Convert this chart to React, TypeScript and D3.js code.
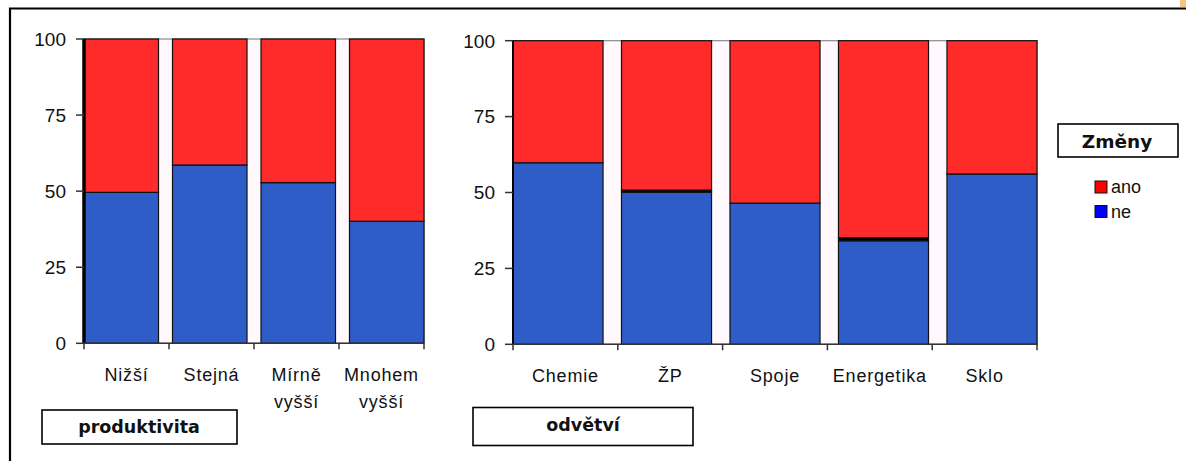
import React from "react";
import * as d3 from "d3";

// ---- data ----
const prodCategories = ["Nižší", "Stejná", "Mírně\nvyšší", "Mnohem\nvyšší"];
const prodNe = [49.6, 58.6, 52.8, 40.1];
const prodOther = [0, 0, 0, 0];
const prodAno = [50.4, 41.4, 47.2, 59.9];

const sectorCategories = ["Chemie", "ŽP", "Spoje", "Energetika", "Sklo"];
const sectorNe = [59.8, 50.1, 46.5, 34.1, 56.1];
const sectorOther = [0, 0.7, 0, 1.0, 0];
const sectorAno = [40.2, 49.2, 53.5, 64.9, 43.9];

const yTicks = [0, 25, 50, 75, 100];
const legendTitle = "Změny";
const legendItems = ["ano", "ne"];
const prodTitle = "produktivita";
const sectorTitle = "odvětví";

const RED = "#ff2a2a";
const BLUE = "#2e5dc8";
const FONT = "'Liberation Sans', Arial, sans-serif";
const BOLD = "'DejaVu Sans', Verdana, sans-serif";

type Row = { cat: string; ne: number; other: number; ano: number };

function Panel({
  cats, ne, other, ano, x0, x1, y0, y1, axisW, pad,
}: {
  cats: string[]; ne: number[]; other: number[]; ano: number[];
  x0: number; x1: number; y0: number; y1: number; axisW: number; pad: number;
}) {
  const rows: Row[] = cats.map((c, i) => ({ cat: c, ne: ne[i], other: other[i], ano: ano[i] }));
  const stack = d3.stack<Row>().keys(["ne", "other", "ano"]);
  const series = stack(rows);
  const y = d3.scaleLinear().domain([0, 100]).range([y1, y0]);
  const band = d3.scaleBand<string>().domain(cats).range([x0, x1]);
  const bars = d3.scaleBand<string>().domain(cats).range([x0, x1]).paddingInner(pad).paddingOuter(0);
  const colors: Record<string, string> = { ne: BLUE, other: "#000", ano: RED };
  const edges = [x0, ...cats.map((c) => (band(c) as number) + band.bandwidth())];
  return (
    <g>
      <rect x={x0} y={y0} width={x1 - x0} height={y1 - y0} fill="#fff9fd" stroke="#8a8a8a" strokeWidth={1.2} />
      {series.map((s) =>
        s.map((d, i) => {
          const h = y(d[0]) - y(d[1]);
          if (h <= 0) return null;
          return (
            <rect
              key={s.key + i}
              x={bars(rows[i].cat)}
              y={y(d[1])}
              width={bars.bandwidth()}
              height={h}
              fill={colors[s.key]}
              stroke="#111"
              strokeWidth={1.2}
            />
          );
        })
      )}
      {/* y axis */}
      <line x1={x0} x2={x0} y1={y0} y2={y1} stroke="#000" strokeWidth={axisW} />
      {yTicks.map((t) => (
        <g key={t}>
          <line x1={x0 - 8} x2={x0} y1={y(t)} y2={y(t)} stroke="#333" strokeWidth={1.5} />
          <text x={x0 - 18} y={y(t)} dy="0.36em" textAnchor="end" fontFamily={FONT} fontSize={19} fill="#111">
            {t}
          </text>
        </g>
      ))}
      {/* x axis */}
      <line x1={x0} x2={x1} y1={y1} y2={y1} stroke="#333" strokeWidth={1.5} />
      {edges.map((e, i) => (
        <line key={i} x1={e} x2={e} y1={y1} y2={y1 + 6} stroke="#333" strokeWidth={1.5} />
      ))}
      {cats.map((c) => {
        const cx = (band(c) as number) + band.bandwidth() / 2;
        const lines = c.split("\n");
        return (
          <text key={c} x={cx} y={y1 + 38} textAnchor="middle" fontFamily={FONT} fontSize={18} letterSpacing={0.8} fill="#111">
            {lines.map((l, i) => (
              <tspan key={i} x={cx} dy={i === 0 ? 0 : 27}>{l}</tspan>
            ))}
          </text>
        );
      })}
    </g>
  );
}

export default function App() {
  return (
    <div style={{ position: "absolute", left: 0, top: 0 }}>
      <svg width={1186} height={461} style={{ display: "block" }}>
        <rect x={0} y={0} width={1186} height={461} fill="#fff" />
        {/* outer frame */}
        <path d="M10,470 V8.5 H1195" fill="none" stroke="#000" strokeWidth={2.2} />
        <rect x={1180} y={0} width={6} height={7} fill="#f8c580" />

        <Panel cats={prodCategories} ne={prodNe} other={prodOther} ano={prodAno}
          x0={84} x1={424} y0={39} y1={343.3} axisW={3.5} pad={0.158} />
        <Panel cats={sectorCategories} ne={sectorNe} other={sectorOther} ano={sectorAno}
          x0={513} x1={1037} y0={40.7} y1={344.3} axisW={2} pad={0.17} />

        {/* axis title boxes */}
        <rect x={42} y={410} width={195} height={34} fill="#fff" stroke="#000" strokeWidth={1.6} />
        <text x={139} y={433} textAnchor="middle" fontFamily={BOLD} fontWeight="bold" fontSize={17.5} fill="#111">{prodTitle}</text>
        <rect x={473} y={407.5} width={220} height={38} fill="#fff" stroke="#000" strokeWidth={1.6} />
        <text x={583} y={431} textAnchor="middle" fontFamily={BOLD} fontWeight="bold" fontSize={17.5} fill="#111">{sectorTitle}</text>

        {/* legend */}
        <rect x={1058} y={124} width={120} height={33} fill="#fff" stroke="#000" strokeWidth={1.6} />
        <text x={1117} y={148} textAnchor="middle" fontFamily={BOLD} fontWeight="bold" fontSize={18.5} fill="#111">{legendTitle}</text>
        {legendItems.map((k, i) => (
          <g key={k}>
            <rect x={1095} y={181 + i * 24.5} width={12} height={12} fill={k === "ano" ? "#ff0000" : "#0000ff"} stroke="#111" strokeWidth={1} />
            <text x={1111} y={193 + i * 24.5} fontFamily={FONT} fontSize={18} fill="#111">{k}</text>
          </g>
        ))}
      </svg>
    </div>
  );
}
